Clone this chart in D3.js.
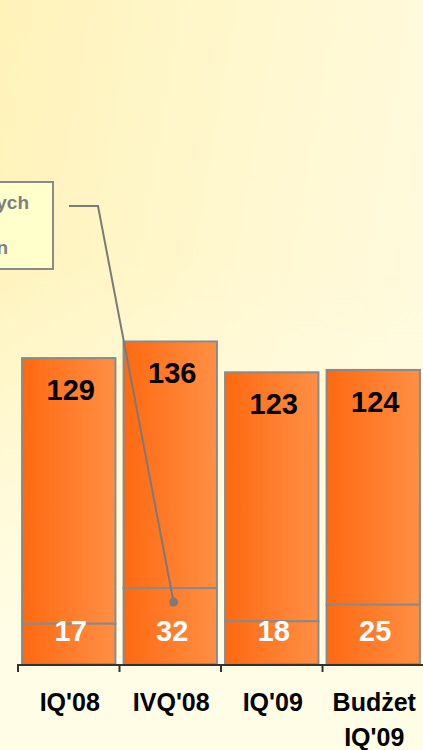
<!DOCTYPE html>
<html>
<head>
<meta charset="utf-8">
<script src="https://cdn.jsdelivr.net/npm/d3@7"></script>
<style>
  html, body { margin: 0; padding: 0; background: #fffbe0; }
  svg { display: block; font-family: "Liberation Sans", Arial, sans-serif; font-weight: bold; }
</style>
</head>
<body>
<svg id="chart" width="423" height="750"></svg>
<script>
// data
var categories = ["IQ'08", "IVQ'08", "IQ'09", "Budżet IQ'09"];
var baseValues = [17, 32, 18, 25];       // lower (white label) segment
var upperValues = [112, 104, 105, 99];   // upper segment, total on top
var legendLines = ["w tym nowych", "w mln"];

var svg = d3.select("#chart"),
  width = +svg.attr("width"),
  height = +svg.attr("height");

var defs = svg.append("defs");

var bg = defs.append("linearGradient").attr("id", "bg")
  .attr("x1", "0").attr("y1", "0").attr("x2", "1").attr("y2", "0.3");
bg.append("stop").attr("offset", "0").attr("stop-color", "#fff3ba");
bg.append("stop").attr("offset", "0.5").attr("stop-color", "#fff7cc");
bg.append("stop").attr("offset", "1").attr("stop-color", "#fffadc");

var fade = defs.append("linearGradient").attr("id", "fade")
  .attr("x1", "0").attr("y1", "0").attr("x2", "0").attr("y2", "1");
fade.append("stop").attr("offset", "0.35").attr("stop-color", "#fffde6").attr("stop-opacity", 0);
fade.append("stop").attr("offset", "0.85").attr("stop-color", "#fffde6").attr("stop-opacity", 1);

var barGrad = defs.append("linearGradient").attr("id", "bar")
  .attr("x1", "0").attr("y1", "0").attr("x2", "1").attr("y2", "0");
barGrad.append("stop").attr("offset", "0").attr("stop-color", "#ff6910");
barGrad.append("stop").attr("offset", "1").attr("stop-color", "#ff8f45");

svg.append("rect").attr("width", width).attr("height", height).attr("fill", "url(#bg)");
svg.append("rect").attr("width", width).attr("height", height).attr("fill", "url(#fade)");

var baseY = 664;
var x = d3.scaleBand().domain(categories).range([18, 424])
  .paddingInner(0.08).paddingOuter(0.04);
var y = d3.scaleLinear().domain([0, 280]).range([baseY, 0]);

var data = categories.map(function (c, i) {
  return { cat: c, base: baseValues[i], upper: upperValues[i], total: baseValues[i] + upperValues[i] };
});

var grey = "#8a8a8a";

var bars = svg.selectAll(".bar").data(data).enter().append("g").attr("class", "bar");

bars.append("rect")
  .attr("x", function (d) { return x(d.cat); })
  .attr("y", function (d) { return y(d.total); })
  .attr("width", x.bandwidth())
  .attr("height", function (d) { return y(d.base) - y(d.total); })
  .attr("fill", "url(#bar)").attr("stroke", grey).attr("stroke-width", 2);

bars.append("rect")
  .attr("x", function (d) { return x(d.cat); })
  .attr("y", function (d) { return y(d.base); })
  .attr("width", x.bandwidth())
  .attr("height", function (d) { return baseY - y(d.base); })
  .attr("fill", "url(#bar)").attr("stroke", grey).attr("stroke-width", 2);

bars.append("text")
  .attr("x", function (d) { return x(d.cat) + x.bandwidth() / 2 + 2; })
  .attr("y", function (d) { return y(d.total) + 42; })
  .attr("text-anchor", "middle").attr("font-size", 29).attr("fill", "#000")
  .text(function (d) { return d.total; });

bars.append("text")
  .attr("x", function (d) { return x(d.cat) + x.bandwidth() / 2 + 2; })
  .attr("y", 641)
  .attr("text-anchor", "middle").attr("font-size", 29).attr("fill", "#fff")
  .text(function (d) { return d.base; });

// axis: line with ticks on category boundaries
var axis = svg.append("g").attr("class", "axis");
axis.append("line").attr("x1", 18).attr("x2", 424).attr("y1", baseY + 1).attr("y2", baseY + 1)
  .attr("stroke", "#333").attr("stroke-width", 2);
axis.selectAll(".tick").data(d3.range(categories.length + 1)).enter().append("line")
  .attr("x1", function (i) { return 18 + i * x.step(); })
  .attr("x2", function (i) { return 18 + i * x.step(); })
  .attr("y1", baseY).attr("y2", baseY + 8)
  .attr("stroke", "#333").attr("stroke-width", 2);

axis.selectAll(".lbl").data(data).enter().append("text")
  .attr("text-anchor", "middle").attr("font-size", 25).attr("fill", "#000")
  .each(function (d) {
    var cx = x(d.cat) + x.bandwidth() / 2 + 1;
    var parts = d.cat.split(" ");
    d3.select(this).selectAll("tspan").data(parts).enter().append("tspan")
      .attr("x", cx).attr("y", function (p, j) { return 711 + j * 35; })
      .text(function (p) { return p; });
  });

// callout box (cut off at the left edge) with leader line to bar 2
svg.append("rect").attr("x", -20).attr("y", 182).attr("width", 73).attr("height", 87)
  .attr("fill", "#ffffcc").attr("stroke", grey).attr("stroke-width", 2);
svg.selectAll(".legend").data(legendLines).enter().append("text")
  .attr("x", function (d, i) { return i === 0 ? 29 : 8; })
  .attr("y", function (d, i) { return 209 + i * 45; })
  .attr("text-anchor", "end").attr("font-size", 19).attr("fill", "#808080")
  .text(function (d) { return d; });

var target = data[1];
var tx = x(target.cat) + 50, ty = y(target.base) + 14;
svg.append("polyline")
  .attr("points", [[69, 206], [98, 206], [tx, ty]].join(" "))
  .attr("fill", "none").attr("stroke", "#7a7a7a").attr("stroke-width", 2);
svg.append("circle").attr("cx", tx).attr("cy", ty).attr("r", 4.5).attr("fill", "#7a7a7a");
</script>
</body>
</html>
